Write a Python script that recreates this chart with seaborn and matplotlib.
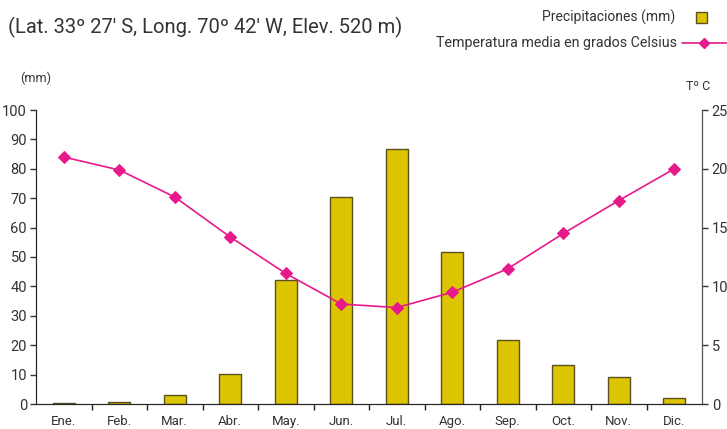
import matplotlib
matplotlib.use("Agg")
import matplotlib.pyplot as plt
import seaborn as sns
from matplotlib.lines import Line2D
from matplotlib.patches import Rectangle
from matplotlib.ticker import FixedLocator

meses = ["Ene.", "Feb.", "Mar.", "Abr.", "May.", "Jun.", "Jul.", "Ago.", "Sep.", "Oct.", "Nov.", "Dic."]
precipitacion = [0.5, 0.8, 3.2, 10.2, 42.2, 70.4, 86.7, 51.7, 21.8, 13.3, 9.2, 2.0]
temperatura = [21.0, 19.9, 17.6, 14.2, 11.1, 8.5, 8.2, 9.5, 11.5, 14.5, 17.3, 20.0]

sns.set_style("ticks")
plt.rcParams["font.family"] = ["Roboto", "DejaVu Sans"]

txt = "#333333"
amarillo = "#dcc400"
borde = "#5a5020"
magenta = "#e8198b"

fig = plt.figure(figsize=(7.27, 4.29), dpi=100)
ax = fig.add_axes([36 / 727, 25 / 429, 666 / 727, 294 / 429])

sns.barplot(x=meses, y=precipitacion, color=amarillo, width=0.4,
            edgecolor=borde, linewidth=1.0, saturation=1, ax=ax)
ax.set_ylim(0, 100)
ax.set_xlim(-0.5, 11.5)
ax.set_yticks(range(0, 101, 10))
ax.set_xlabel("")
ax.set_ylabel("")
ax.tick_params(axis="y", colors=txt, labelsize=10.5, length=4, width=1, direction="out", pad=2.5)
ax.tick_params(axis="x", which="major", length=0, labelsize=9.5, colors=txt, pad=8)
ax.xaxis.set_minor_locator(FixedLocator([i + 0.5 for i in range(11)]))
ax.tick_params(axis="x", which="minor", length=4, width=1, color="#222")
for s in ["left", "bottom", "right"]:
    ax.spines[s].set_color("#222")
ax.spines["top"].set_visible(False)

ax2 = ax.twinx()
sns.lineplot(x=meses, y=temperatura, color=magenta, marker="D", markersize=6,
             markeredgecolor=magenta, linewidth=1.2, sort=False, ax=ax2)
ax2.set_ylim(0, 25)
ax2.set_yticks(range(0, 26, 5))
ax2.set_ylabel("")
ax2.tick_params(axis="y", colors=txt, labelsize=10.5, length=4, width=1, direction="out", pad=3)
ax2.spines["top"].set_visible(False)
ax2.spines["right"].set_color("#555")

# primera línea del título: en el original queda casi fuera del borde superior
fig.text(8 / 727, 1 + 3 / 429, "Estación Quinta Normal", fontsize=14.5, color=txt, va="baseline")
fig.text(8 / 727, 1 - 33 / 429, "(Lat. 33º 27' S, Long. 70º 42' W, Elev. 520 m)",
         fontsize=14.5, color=txt, va="baseline")
fig.text(20 / 727, 1 - 82 / 429, "(mm)", fontsize=9, color=txt, va="baseline")
fig.text(686 / 727, 1 - 90 / 429, "Tº C", fontsize=9, color=txt, va="baseline")

# leyenda manual arriba a la derecha
fig.text(675 / 727, 1 - 17 / 429, "Precipitaciones (mm)", fontsize=10, color=txt,
         ha="right", va="center")
fig.text(677 / 727, 1 - 43 / 429, "Temperatura media en grados Celsius", fontsize=10.3,
         color=txt, ha="right", va="center")
fig.add_artist(Rectangle((696 / 727, 1 - 23 / 429), 11 / 727, 11 / 429,
                         facecolor=amarillo, edgecolor=borde, linewidth=1.0,
                         transform=fig.transFigure))
fig.add_artist(Line2D([682 / 727, 1.0], [1 - 43 / 429] * 2, color=magenta, linewidth=1.2,
                      transform=fig.transFigure))
fig.add_artist(Line2D([704 / 727], [1 - 43 / 429], color=magenta, marker="D", markersize=5,
                      transform=fig.transFigure))

fig.savefig("out.png", dpi=100)
